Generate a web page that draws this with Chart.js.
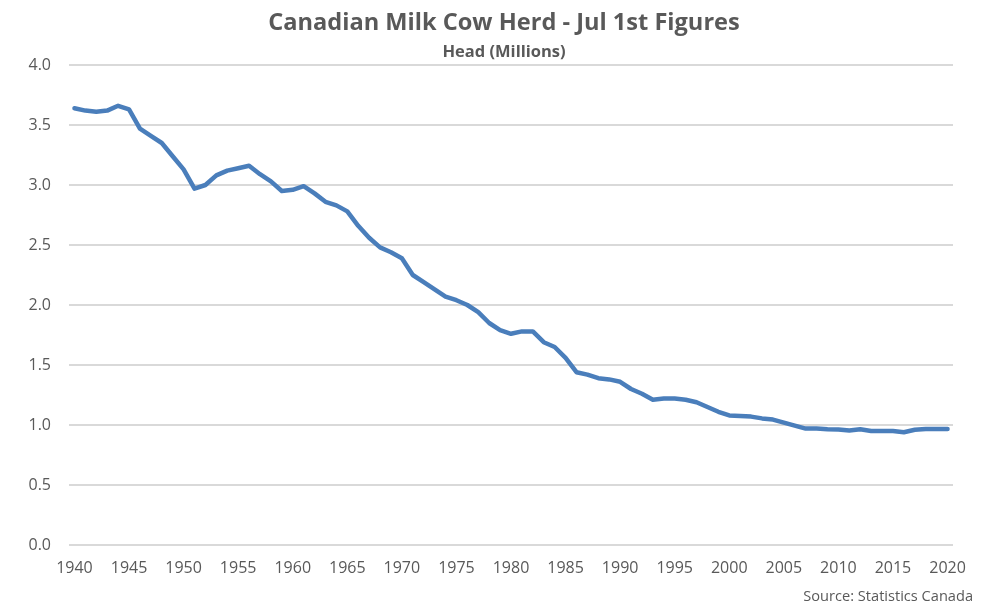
<!DOCTYPE html>
<html>
<head>
<meta charset="utf-8">
<script src="https://cdn.jsdelivr.net/npm/chart.js@4"></script>
<style>
html,body{margin:0;padding:0;background:#fff;}
#wrap{width:989px;height:611px;}
</style>
</head>
<body>
<div id="wrap"><canvas id="c" width="989" height="611"></canvas></div>
<script>
const years = [];
for (let y = 1940; y <= 2020; y++) years.push(y);

const herd = [
  3.64, 3.62, 3.61, 3.62, 3.66, 3.63, 3.47, 3.41, 3.35, 3.24,
  3.13, 2.97, 3.00, 3.08, 3.12, 3.14, 3.16, 3.09, 3.03, 2.95,
  2.96, 2.99, 2.93, 2.86, 2.83, 2.78, 2.66, 2.56, 2.48, 2.44,
  2.39, 2.25, 2.19, 2.13, 2.07, 2.04, 2.00, 1.94, 1.85, 1.79,
  1.76, 1.78, 1.78, 1.69, 1.65, 1.56, 1.44, 1.42, 1.39, 1.38,
  1.36, 1.30, 1.26, 1.21, 1.22, 1.22, 1.21, 1.19, 1.15, 1.11,
  1.08, 1.075, 1.07, 1.055, 1.045, 1.02, 0.995, 0.97, 0.97, 0.965,
  0.963, 0.955, 0.965, 0.95, 0.95, 0.95, 0.94, 0.96, 0.967, 0.967,
  0.967
];

const yTicks = [0, 0.5, 1.0, 1.5, 2.0, 2.5, 3.0, 3.5, 4.0];

const titleText = 'Canadian Milk Cow Herd - Jul 1st Figures';
const subtitleText = 'Head (Millions)';
const sourceText = 'Source: Statistics Canada';

const FONT = "'Open Sans', 'Noto Sans', sans-serif";
const GREY = '#595959';

const textPlugin = {
  id: 'textNotes',
  afterDraw(chart) {
    const ctx = chart.ctx;
    const a = chart.chartArea;
    const cx = (a.left + a.right) / 2 - 7;
    ctx.save();
    ctx.fillStyle = GREY;
    ctx.textBaseline = 'alphabetic';
    ctx.textAlign = 'center';
    ctx.font = "bold 23.6px " + FONT;
    ctx.fillText(titleText, cx, 30);
    ctx.font = "bold 16.5px " + FONT;
    ctx.fillText(subtitleText, cx, 57);
    ctx.textAlign = 'right';
    ctx.font = "14.6px " + FONT;
    ctx.fillText(sourceText, 973, 601);
    ctx.restore();
  }
};

new Chart(document.getElementById('c'), {
  type: 'line',
  data: {
    labels: years,
    datasets: [{
      data: herd,
      borderColor: '#4A7EBB',
      borderWidth: 4.5,
      pointRadius: 0,
      tension: 0,
      fill: false,
      borderJoinStyle: 'round',
      borderCapStyle: 'round'
    }]
  },
  options: {
    responsive: false,
    animation: false,
    devicePixelRatio: 1,
    layout: { padding: { left: 0, right: 36, top: 65, bottom: 31 } },
    plugins: {
      legend: { display: false },
      tooltip: { enabled: false },
      title: { display: false }
    },
    scales: {
      x: {
        type: 'category',
        offset: true,
        grid: { display: false, drawTicks: false },
        border: { display: false },
        afterFit: function(scale) { scale.height = 35; },
        ticks: {
          autoSkip: false,
          maxRotation: 0,
          minRotation: 0,
          padding: 14,
          color: GREY,
          font: { family: FONT, size: 16 },
          callback: function(val, idx) {
            const yr = years[idx];
            return yr % 5 === 0 ? String(yr) : '';
          }
        }
      },
      y: {
        min: 0,
        max: 4,
        grid: { color: '#D9D9D9', lineWidth: 2, drawTicks: false },
        border: { display: false },
        afterBuildTicks: function(scale) {
          scale.ticks = yTicks.map(v => ({ value: v }));
        },
        afterFit: function(scale) { scale.width = 69; },
        ticks: {
          padding: 18,
          color: GREY,
          font: { family: FONT, size: 16 },
          callback: v => Number(v).toFixed(1)
        }
      }
    }
  },
  plugins: [textPlugin]
});
</script>
</body>
</html>
